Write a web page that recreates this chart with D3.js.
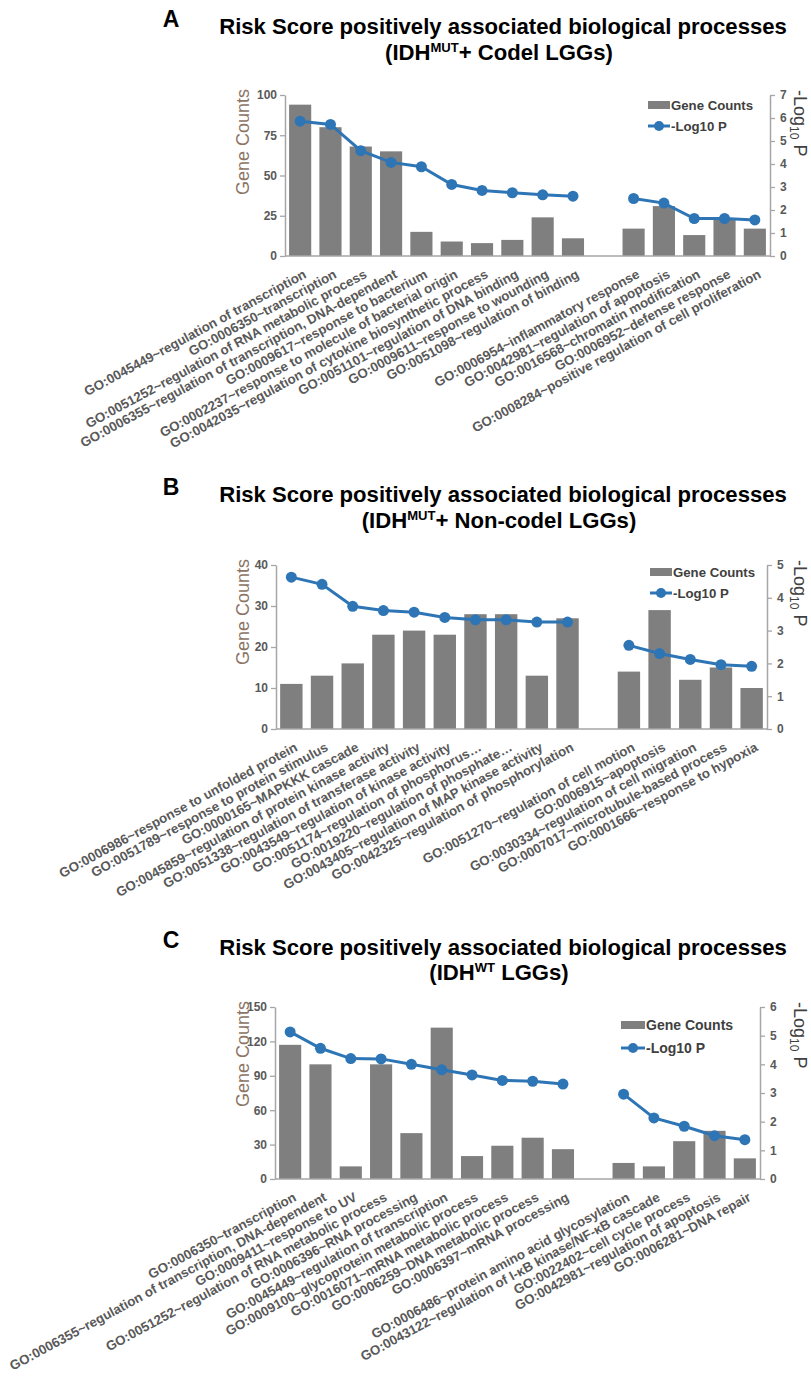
<!DOCTYPE html>
<html>
<head>
<meta charset="utf-8">
<script src="https://cdnjs.cloudflare.com/ajax/libs/d3/7.8.5/d3.min.js"></script>
<style>
  body { margin: 0; background: #fff; }
  svg { display: block; }
</style>
</head>
<body>
<svg id="canvas" width="811" height="1376"></svg>
<script>
// ---- data ----
const termsA = [
  "GO:0045449~regulation of transcription",
  "GO:0006350~transcription",
  "GO:0051252~regulation of RNA metabolic process",
  "GO:0006355~regulation of transcription, DNA-dependent",
  "GO:0009617~response to bacterium",
  "GO:0002237~response to molecule of bacterial origin",
  "GO:0042035~regulation of cytokine biosynthetic process",
  "GO:0051101~regulation of DNA binding",
  "GO:0009611~response to wounding",
  "GO:0051098~regulation of binding",
  "GO:0006954~inflammatory response",
  "GO:0042981~regulation of apoptosis",
  "GO:0016568~chromatin modification",
  "GO:0006952~defense response",
  "GO:0008284~positive regulation of cell proliferation"
];
const countsA = [94, 80, 68, 65, 15, 9, 8, 10, 24, 11, 17, 31, 13, 23, 17];
const logpA = [5.86, 5.72, 4.58, 4.07, 3.88, 3.11, 2.85, 2.75, 2.66, 2.6, 2.5, 2.3, 1.63, 1.63, 1.57];

const termsB = [
  "GO:0006986~response to unfolded protein",
  "GO:0051789~response to protein stimulus",
  "GO:0000165~MAPKKK cascade",
  "GO:0045859~regulation of protein kinase activity",
  "GO:0051338~regulation of transferase activity",
  "GO:0043549~regulation of kinase activity",
  "GO:0051174~regulation of phosphorus\u2026",
  "GO:0019220~regulation of phosphate\u2026",
  "GO:0043405~regulation of MAP kinase activity",
  "GO:0042325~regulation of phosphorylation",
  "GO:0051270~regulation of cell motion",
  "GO:0006915~apoptosis",
  "GO:0030334~regulation of cell migration",
  "GO:0007017~microtubule-based process",
  "GO:0001666~response to hypoxia"
];
const countsB = [11, 13, 16, 23, 24, 23, 28, 28, 13, 27, 14, 29, 12, 15, 10];
const logpB = [4.63, 4.41, 3.74, 3.61, 3.56, 3.4, 3.33, 3.33, 3.26, 3.26, 2.55, 2.3, 2.12, 1.96, 1.91];

const termsC = [
  "GO:0006350~transcription",
  "GO:0006355~regulation of transcription, DNA-dependent",
  "GO:0009411~response to UV",
  "GO:0051252~regulation of RNA metabolic process",
  "GO:0006396~RNA processing",
  "GO:0045449~regulation of transcription",
  "GO:0009100~glycoprotein metabolic process",
  "GO:0016071~mRNA metabolic process",
  "GO:0006259~DNA metabolic process",
  "GO:0006397~mRNA processing",
  "GO:0006486~protein amino acid glycosylation",
  "GO:0043122~regulation of I-\u03baB kinase/NF-\u03baB cascade",
  "GO:0022402~cell cycle process",
  "GO:0042981~regulation of apoptosis",
  "GO:0006281~DNA repair"
];
const countsC = [117, 100, 11, 100, 40, 132, 20, 29, 36, 26, 14, 11, 33, 42, 18];
const logpC = [5.13, 4.56, 4.2, 4.19, 4.0, 3.81, 3.63, 3.44, 3.41, 3.31, 2.96, 2.13, 1.84, 1.51, 1.37];

const countTicksA = [0, 25, 50, 75, 100];
const countTicksB = [0, 10, 20, 30, 40];
const countTicksC = [0, 30, 60, 90, 120, 150];

// ---- styling ----
const BAR = "#7f7f7f";
const LINE = "#2e75b6";
const AXIS = "#a6a6a6";
const TICKTXT = "#595959";
const FONT = "'Liberation Sans', Arial, sans-serif";
const NARROW = "'Liberation Sans Narrow', 'Arial Narrow', 'Liberation Sans', Arial, sans-serif";

const svg = d3.select("svg#canvas");
svg.append("rect").attr("width", 811).attr("height", 1376).attr("fill", "#fff");

function title(letter, sub, rest, y1, y2) {
  svg.append("text")
    .attr("x", 171).attr("y", y1 - 7)
    .attr("text-anchor", "middle")
    .attr("font-family", NARROW).attr("font-weight", "bold")
    .attr("font-size", 23).attr("fill", "#000")
    .text(letter);

  const g = svg.append("g").attr("font-family", NARROW).attr("font-weight", "bold")
    .attr("font-size", 22).attr("fill", "#000");
  const l1 = g.append("text").attr("x", 0).attr("y", y1).attr("text-anchor", "middle")
    .text("Risk Score positively associated biological processes");
  const l2 = g.append("text").attr("x", -4).attr("y", y2).attr("text-anchor", "middle");
  l2.append("tspan").text("(IDH");
  l2.append("tspan").attr("font-size", 13).attr("dy", -8).text(sub);
  l2.append("tspan").attr("dy", 8).text(rest);

  // squeeze to the narrow width of the original
  const w = l1.node().getComputedTextLength();
  const sx = 568 / w;
  g.attr("transform", `translate(503,0) scale(${sx},1)`);
}

function panel(cfg) {
  const { terms, counts, logp, countMax, countTicks, pMax, x0, x1, yTop, yBase, legX, legY, legSize, legW, legGap } = cfg;

  const rows = terms.map((t, i) => ({ key: "t" + i, label: t, count: counts[i], p: logp[i] }));
  rows.splice(10, 0, { key: "gap", label: "", count: null, p: null });

  const x = d3.scaleBand().domain(rows.map(d => d.key)).range([x0, x1])
    .paddingInner(0.27).paddingOuter(0.135);
  const yL = d3.scaleLinear().domain([0, countMax]).range([yBase, yTop]);
  const yR = d3.scaleLinear().domain([0, pMax]).range([yBase, yTop]);

  const g = svg.append("g");

  // bars
  g.append("g").selectAll("rect")
    .data(rows.filter(d => d.count != null))
    .join("rect")
    .attr("x", d => x(d.key))
    .attr("width", x.bandwidth())
    .attr("y", d => yL(d.count))
    .attr("height", d => yBase - yL(d.count))
    .attr("fill", BAR);

  // axes
  const left = g.append("g").attr("transform", `translate(${x0},0)`)
    .call(d3.axisLeft(yL).tickValues(countTicks).tickSize(5).tickSizeOuter(0).tickPadding(3));
  const right = g.append("g").attr("transform", `translate(${x1},0)`)
    .call(d3.axisRight(yR).tickValues(d3.range(0, pMax + 1)).tickFormat(d3.format("d"))
      .tickSize(5).tickSizeOuter(0).tickPadding(5));
  [left, right].forEach(a => {
    a.select(".domain").attr("stroke", AXIS).attr("stroke-width", 1.5);
    a.selectAll(".tick line").attr("stroke", AXIS).attr("stroke-width", 1.3);
    a.selectAll(".tick text").attr("fill", TICKTXT)
      .attr("font-family", FONT).attr("font-weight", "bold").attr("font-size", 12);
  });
  g.append("line").attr("x1", x0).attr("x2", x1).attr("y1", yBase).attr("y2", yBase)
    .attr("stroke", AXIS).attr("stroke-width", 1.5);

  // category labels
  g.append("g").selectAll("text")
    .data(rows.filter(d => d.label))
    .join("text")
    .attr("transform", d => `translate(${x(d.key) + x.bandwidth() / 2 + 7},${yBase + 21}) rotate(-28.5)`)
    .attr("text-anchor", "end")
    .attr("font-family", FONT).attr("font-weight", "bold").attr("font-size", 13.3)
    .attr("fill", TICKTXT)
    .text(d => d.label);

  // -log10 P line
  const line = d3.line()
    .defined(d => d.p != null)
    .x(d => x(d.key) + x.bandwidth() / 2)
    .y(d => yR(d.p));
  g.append("path").datum(rows).attr("d", line)
    .attr("fill", "none").attr("stroke", LINE).attr("stroke-width", 3);
  g.append("g").selectAll("circle")
    .data(rows.filter(d => d.p != null))
    .join("circle")
    .attr("cx", d => x(d.key) + x.bandwidth() / 2)
    .attr("cy", d => yR(d.p))
    .attr("r", 5.5)
    .attr("fill", LINE);

  // axis titles
  g.append("text")
    .attr("transform", `translate(249,${yTop - 6}) rotate(-90)`)
    .attr("text-anchor", "end")
    .attr("font-family", FONT).attr("font-size", 18).attr("fill", "#8c7565")
    .text("Gene Counts");
  const rt = g.append("text")
    .attr("transform", `translate(794,${yTop - 5}) rotate(90)`)
    .attr("font-family", FONT).attr("font-size", 18).attr("fill", "#404040");
  rt.append("tspan").text("-Log");
  rt.append("tspan").attr("font-size", 12).attr("dy", 4).text("10");
  rt.append("tspan").attr("dy", -4).text(" P");

  // legend
  const lg = g.append("g").attr("font-family", FONT).attr("font-weight", "bold")
    .attr("font-size", legSize).attr("fill", "#404040");
  lg.append("rect").attr("x", legX).attr("y", legY - 4).attr("width", legW).attr("height", 8).attr("fill", BAR);
  lg.append("text").attr("x", legX + legW + 1).attr("y", legY + legSize * 0.36).text("Gene Counts");
  lg.append("line").attr("x1", legX).attr("x2", legX + legW)
    .attr("y1", legY + legGap).attr("y2", legY + legGap)
    .attr("stroke", LINE).attr("stroke-width", 3);
  lg.append("circle").attr("cx", legX + legW / 2).attr("cy", legY + legGap).attr("r", 5).attr("fill", LINE);
  lg.append("text").attr("x", legX + legW + 1).attr("y", legY + legGap + legSize * 0.36).text("-Log10 P");
}

title("A", "MUT", "+ Codel LGGs)", 34, 60);
panel({ terms: termsA, counts: countsA, logp: logpA, countMax: 100, countTicks: countTicksA,
  pMax: 7, x0: 285, x1: 770, yTop: 95, yBase: 256,
  legX: 648, legY: 105, legSize: 13.2, legW: 22, legGap: 21 });

title("B", "MUT", "+ Non-codel LGGs)", 502, 528);
panel({ terms: termsB, counts: countsB, logp: logpB, countMax: 40, countTicks: countTicksB,
  pMax: 5, x0: 276, x1: 767, yTop: 565, yBase: 729,
  legX: 650, legY: 572, legSize: 13.2, legW: 22, legGap: 21 });

title("C", "WT", " LGGs)", 955, 980);
panel({ terms: termsC, counts: countsC, logp: logpC, countMax: 150, countTicks: countTicksC,
  pMax: 6, x0: 275, x1: 760, yTop: 1007, yBase: 1179,
  legX: 621, legY: 1025, legSize: 14, legW: 24, legGap: 23 });
</script>
</body>
</html>
